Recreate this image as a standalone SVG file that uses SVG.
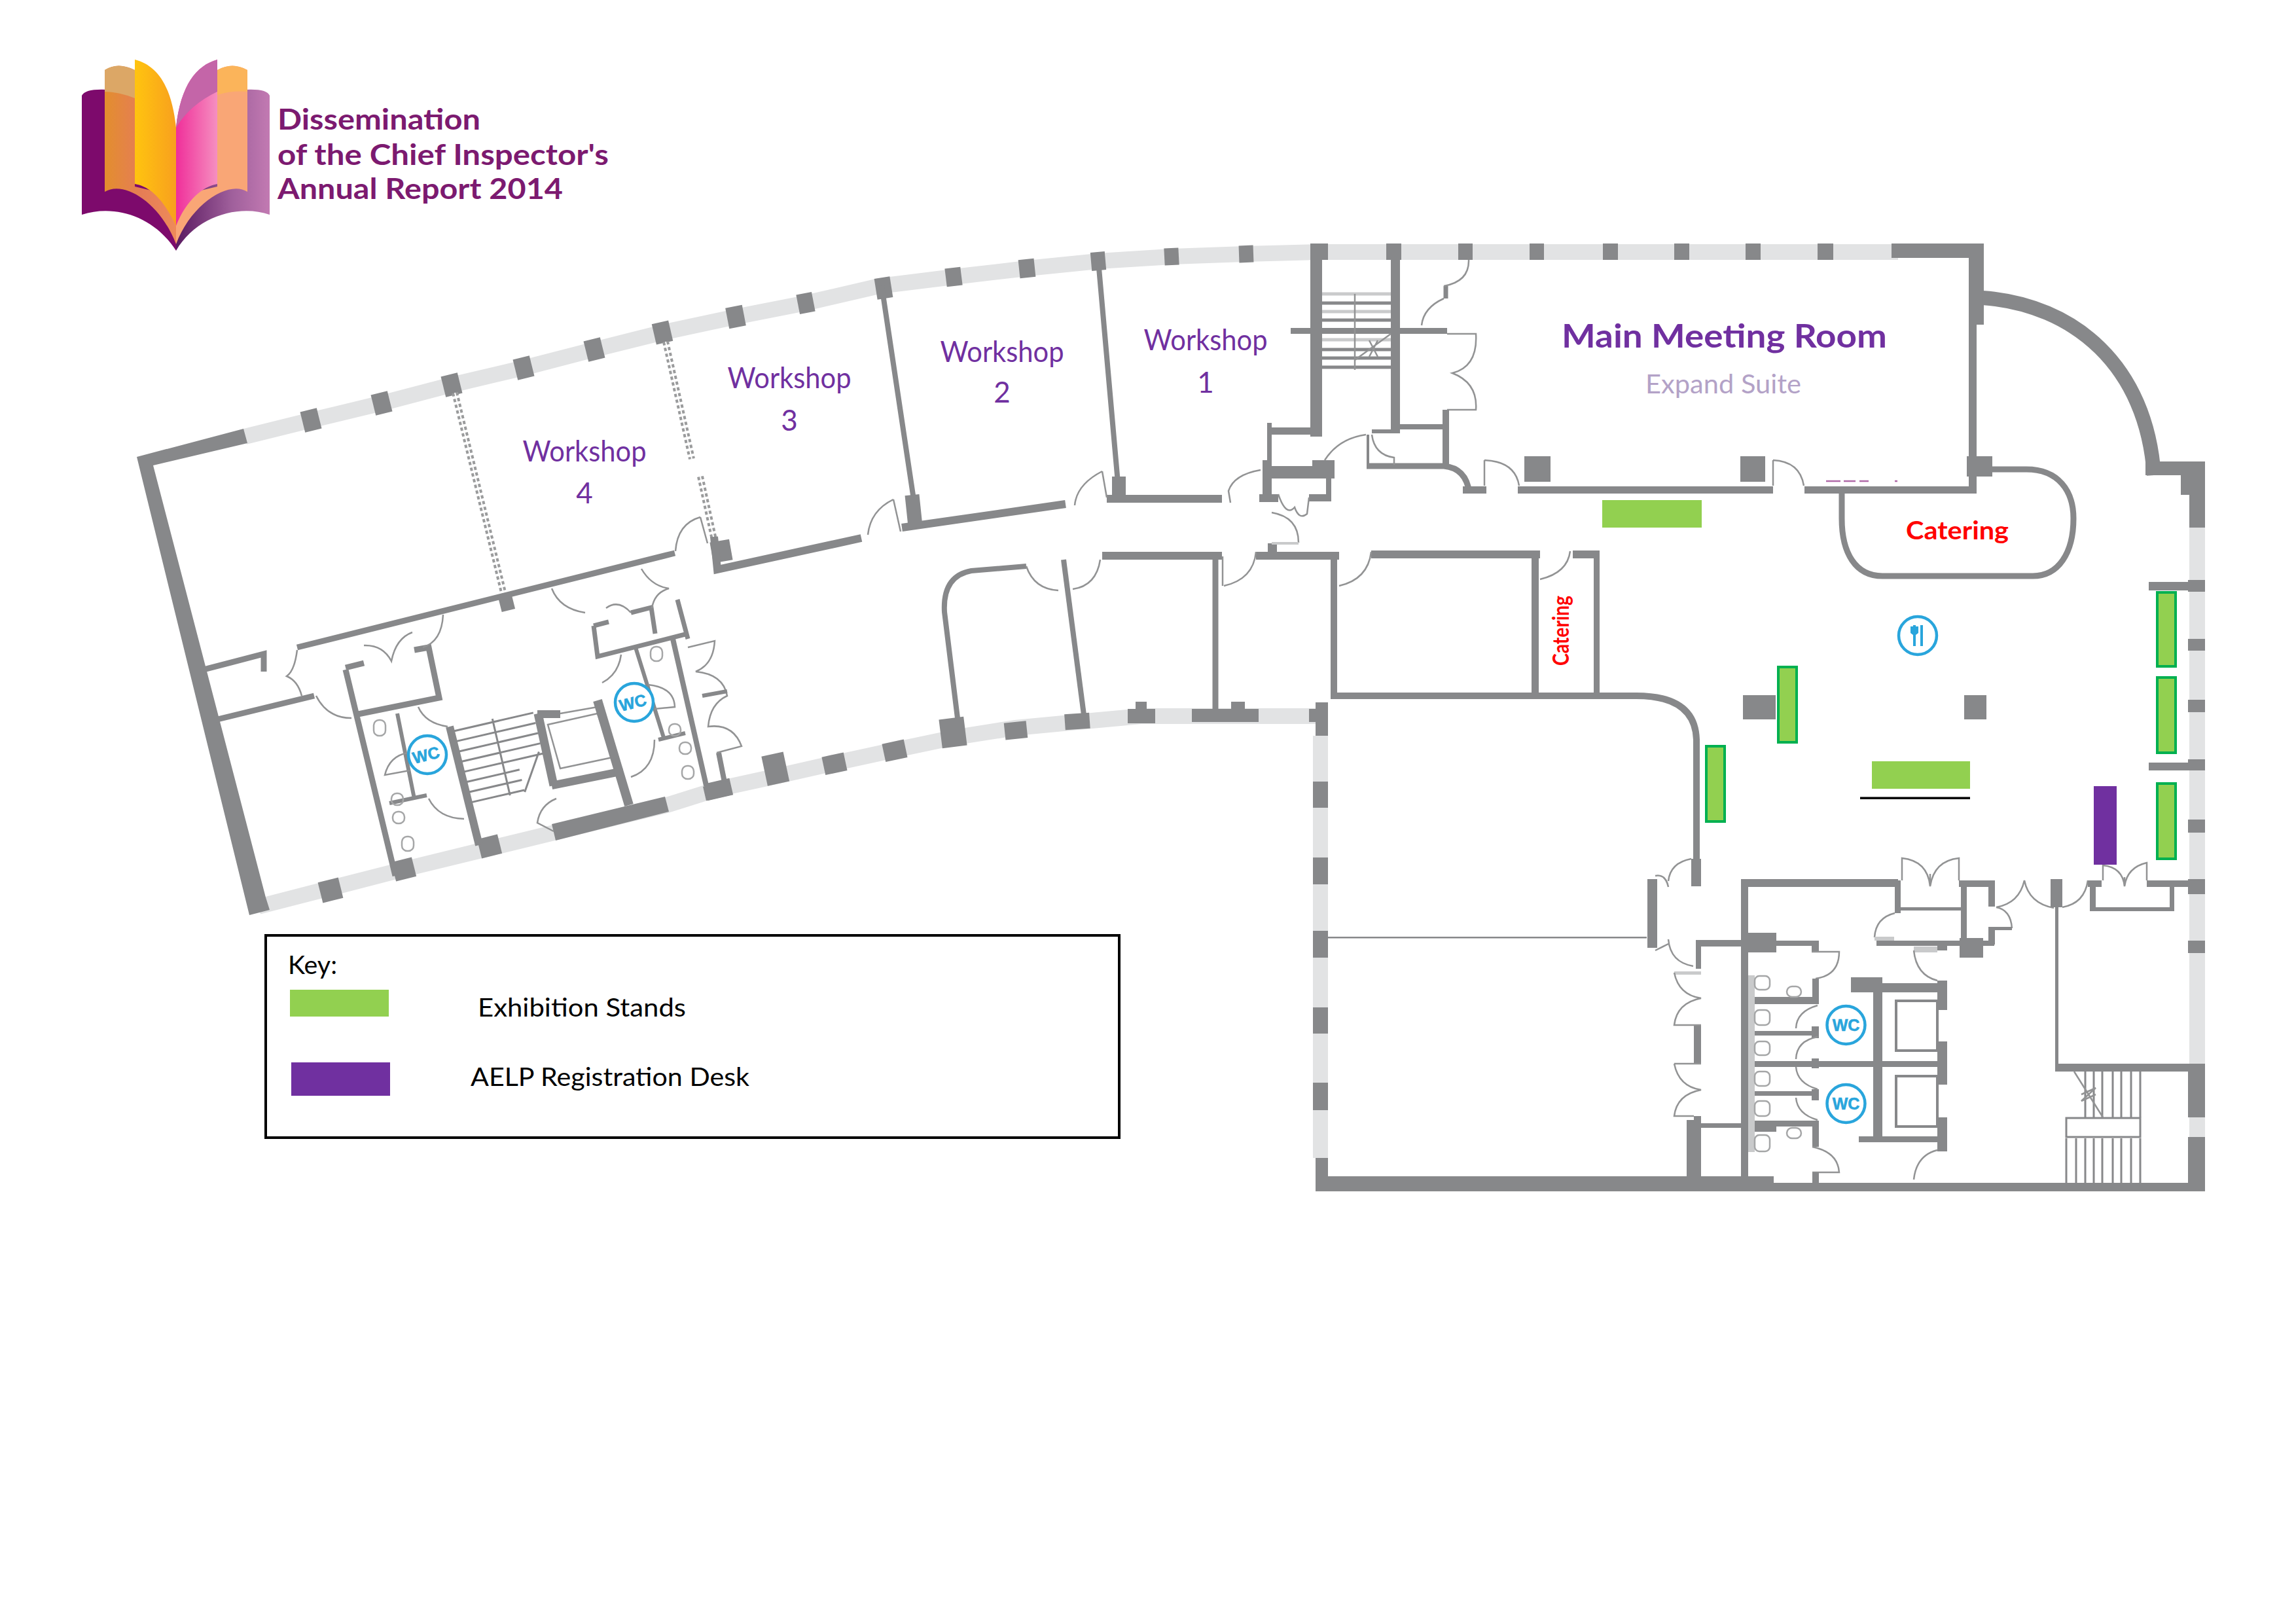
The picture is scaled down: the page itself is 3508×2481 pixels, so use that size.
<svg xmlns="http://www.w3.org/2000/svg" width="3508" height="2481" viewBox="0 0 3508 2481">
<style>
text{font-family:Lato,"Open Sans","Liberation Sans",sans-serif}
.f{fill:#87888a}
.l{fill:#e2e3e4}
.g{fill:#c9cacb}
.w{fill:none;stroke:#87888a;stroke-linejoin:miter}
.d{fill:none;stroke:#929394;stroke-width:2.5}
.t{fill:none;stroke:#a5a6a7;stroke-width:2.5}
.s{fill:#92d050;stroke:#00b050;stroke-width:4}
.p{fill:#92d050}
.reg{fill:#7030a0}
.wk{font-size:44px;fill:#7030a0;text-anchor:middle}
.logo{font-size:43px;font-weight:700;fill:#7c1a70}
.key{font-size:39px;fill:#000}
.ic{fill:#fff;stroke:#29a5dc;stroke-width:4.5}
.wc{font-family:"Liberation Sans",sans-serif;font-size:25px;font-weight:700;fill:#29a5dc;stroke:#29a5dc;stroke-width:.6;text-anchor:middle}
.col{fill:#87888a}
</style>
<defs>
<linearGradient id="gr" gradientUnits="userSpaceOnUse" x1="269" y1="0" x2="412" y2="0"><stop offset="0" stop-color="#5a1a60"/><stop offset="0.6" stop-color="#a0609c"/><stop offset="1" stop-color="#c27ab2"/></linearGradient>
<linearGradient id="go" gradientUnits="userSpaceOnUse" x1="160" y1="0" x2="269" y2="0"><stop offset="0" stop-color="#e38e2e"/><stop offset="0.5" stop-color="#e57d55"/><stop offset="1" stop-color="#ee8a5a"/></linearGradient>
<linearGradient id="gy" gradientUnits="userSpaceOnUse" x1="206" y1="0" x2="269" y2="0"><stop offset="0" stop-color="#ffc40f"/><stop offset="1" stop-color="#f8a01e"/></linearGradient>
<linearGradient id="gm" gradientUnits="userSpaceOnUse" x1="269" y1="0" x2="332" y2="0"><stop offset="0" stop-color="#f02f9a"/><stop offset="1" stop-color="#f58fc0"/></linearGradient>
</defs>
<rect width="3508" height="2481" fill="#fff"/>

<g id="logo">
<path d="M125,146Q130,135 165,137L269,300V383C235,330 175,312 125,328Z" fill="#7d0a6c"/>
<path d="M412,146Q408,135 373,137L269,300V383C300,330 365,312 412,328Z" fill="url(#gr)"/>
<path d="M160,107Q180,94 206,107V285L269,300V373C245,310 190,275 160,293Z" fill="url(#go)"/>
<path d="M160,107Q180,94 206,107V150Q180,140 160,140Z" fill="#dca766"/>
<path d="M378,107Q355,94 332,107V285L269,300V373C293,310 350,275 378,293Z" fill="#f9a676"/>
<path d="M378,107Q355,94 332,107V145Q355,138 378,140Z" fill="#fbb45a"/>
<path d="M206,91C240,100 262,130 269,195V345C250,305 230,285 206,281Z" fill="url(#gy)"/>
<path d="M332,91V281C310,285 285,305 269,345V195C276,130 300,100 332,91Z" fill="url(#gm)"/>
<path d="M332,91C300,100 276,130 269,195Q290,160 332,140Z" fill="#c465a8"/>
<text class="logo" x="424" y="198" textLength="310" lengthAdjust="spacingAndGlyphs">Dissemination</text>
<text class="logo" x="424" y="252" textLength="506" lengthAdjust="spacingAndGlyphs">of the Chief Inspector's</text>
<text class="logo" x="424" y="304" textLength="436" lengthAdjust="spacingAndGlyphs">Annual Report 2014</text>
</g>

<g id="facade-west">
<polyline points="374,667 475,642 583,616 690,588 800,562 908,534 1012,508 1124,484 1231,463 1343,437 1457,423 1569,410 1678,399 1790,392 1902,388 2015,385 2900,385" fill="none" stroke="#e2e3e4" stroke-width="24"/>
<polyline points="395,1385 617,1328 1019,1230 1098,1205 1190,1185 1274,1166 1366,1146 1456,1127 1551,1112 1646,1103 1744,1094 2015,1094" fill="none" stroke="#e2e3e4" stroke-width="24"/>
<polygon class="f" points="209,698 372,655 378,677 234,711 406,1371 412,1390 381,1398"/>
<rect class="col" x="-13" y="-16" width="26" height="32" transform="translate(475,642) rotate(-14)"/>
<rect class="col" x="-13" y="-16" width="26" height="32" transform="translate(583,616) rotate(-14)"/>
<rect class="col" x="-13" y="-16" width="26" height="32" transform="translate(690,588) rotate(-14)"/>
<rect class="col" x="-13" y="-16" width="26" height="32" transform="translate(800,562) rotate(-14)"/>
<rect class="col" x="-13" y="-16" width="26" height="32" transform="translate(908,534) rotate(-14)"/>
<rect class="col" x="-13" y="-16" width="26" height="32" transform="translate(1012,508) rotate(-13)"/>
<rect class="col" x="-13" y="-16" width="26" height="32" transform="translate(1124,484) rotate(-11)"/>
<rect class="col" x="-12" y="-15" width="24" height="30" transform="translate(1231,463) rotate(-11)"/>
<rect class="col" x="-12" y="-16" width="24" height="32" transform="translate(1350,440) rotate(-9)"/>
<rect class="col" x="-12" y="-14" width="24" height="28" transform="translate(1457,423) rotate(-7)"/>
<rect class="col" x="-12" y="-14" width="24" height="28" transform="translate(1569,410) rotate(-6)"/>
<rect class="col" x="-11" y="-14" width="22" height="28" transform="translate(1678,399) rotate(-5)"/>
<rect class="col" x="-11" y="-13" width="22" height="26" transform="translate(1790,392) rotate(-3)"/>
<rect class="col" x="-11" y="-13" width="22" height="26" transform="translate(1904,388) rotate(-2)"/>
<rect class="f" x="2002" y="372" width="27" height="25"/><rect class="f" x="2118" y="372" width="23" height="25"/><rect class="f" x="2228" y="372" width="22" height="25"/><rect class="f" x="2337" y="372" width="22" height="25"/><rect class="f" x="2449" y="372" width="23" height="25"/><rect class="f" x="2558" y="372" width="23" height="25"/><rect class="f" x="2667" y="372" width="23" height="25"/><rect class="f" x="2777" y="372" width="24" height="25"/>
<rect class="f" x="2890" y="372" width="141" height="22"/>
<rect class="col" x="-16" y="-16" width="32" height="32" transform="translate(505,1360) rotate(-14)"/>
<rect class="col" x="-16" y="-15" width="32" height="30" transform="translate(617,1328) rotate(-14)"/>
<rect class="col" x="-16" y="-15" width="32" height="30" transform="translate(748,1293) rotate(-14)"/>
<polygon class="f" points="843,1259 1016,1217 1022,1240 849,1284"/>
<rect class="col" x="-20" y="-14" width="40" height="26" transform="translate(1098,1207) rotate(-13)"/>
<rect class="col" x="-15" y="-24" width="34" height="46" transform="translate(1183,1176) rotate(-12)"/>
<rect class="col" x="-16" y="-14" width="34" height="28" transform="translate(1274,1167) rotate(-12)"/>
<rect class="col" x="-16" y="-14" width="34" height="28" transform="translate(1366,1147) rotate(-12)"/>
<rect class="col" x="-19" y="-22" width="38" height="44" transform="translate(1456,1119) rotate(-7)"/>
<rect class="col" x="-16" y="-13" width="34" height="26" transform="translate(1551,1116) rotate(-6)"/>
<rect class="col" x="-19" y="-13" width="38" height="24" transform="translate(1646,1103) rotate(-4)"/>
<path class="f" d="M1723,1083H1735V1072H1752V1083H1765V1105H1723ZM1821,1083H1881V1072H1902V1083H1923V1103H1821ZM2000,1083H2010V1073H2029V1124H2010V1103H2000Z"/>
</g>

<g id="partitions">
<path d="M695,600L770,909M1017,522L1057,701M1070,728L1092,829" fill="none" stroke="#9a9b9c" stroke-width="10" stroke-dasharray="5 4"/>
<path d="M695,600L770,909M1017,522L1057,701M1070,728L1092,829" fill="none" stroke="#fff" stroke-width="2"/>
<path class="w" stroke-width="8" d="M1347,436L1399,783M1678,398L1710,760"/>
</g>

<g id="west-wing">
<path class="w" stroke-width="9" d="M311,1023L403,999V1026M454,989L1031,845"/>
<rect class="col" x="-10" y="-12" width="21" height="26" transform="translate(773,919) rotate(-14)"/>
<path class="w" stroke-width="9" d="M328,1100L480,1063"/>
<rect class="col" x="-15" y="-16" width="30" height="32" transform="translate(1102,842) rotate(-10)"/>
<path class="w" stroke-width="12" d="M1091,820L1096,870L1316,822"/>
<path class="w" stroke-width="12" d="M1378,806L1628,770"/>
<rect class="col" x="-11" y="-24" width="22" height="50" transform="translate(1396,780) rotate(-6)"/>
<rect class="f" x="1699" y="728" width="21" height="36"/>
<path class="w" stroke-width="12" d="M1691,762H1867"/>
<path class="w" stroke-width="8" d="M1463,1097L1443,935Q1440,880 1484,872L1568,865"/>
<path class="w" stroke-width="8" d="M1656,1092L1625,855"/>
<path class="w" stroke-width="9" d="M1857,850V1085"/>
<path class="w" stroke-width="12" d="M1684,849H1867M1919,849H2046M2095,847H2353M2403,847H2444"/>
<rect class="f" x="1937" y="830" width="14" height="14"/>
<path class="w" stroke-width="9" d="M528,1023L604,1338M528,1020L556,1013M633,993L655,989L671,1066L547,1091"/>
<path class="w" stroke-width="6" d="M607,1090L633,1220M595,1227L652,1215"/>
<path class="w" stroke-width="12" d="M687,1110L732,1291"/>
<path class="w" stroke-width="13" d="M822,1090L846,1200"/>
<rect class="f" x="821" y="1085" width="35" height="12"/>
<path class="d" d="M856,1090L913,1080M837,1107L913,1090L936,1157L856,1174Z"/>
<path class="w" stroke-width="12" d="M843,1200L952,1178"/>
<path class="w" stroke-width="14" d="M913,1070L961,1230"/>
<path class="w" stroke-width="7" d="M907,956L913,1003L1047,969M1035,916L1051,976M907,956L930,950M964,936L995,928L1001,968"/>
<path class="w" stroke-width="6" d="M971,989L1015,1130M1006,1130L1047,1120"/>
<path class="w" stroke-width="8" d="M1028,976L1079,1200"/>
<path class="w" stroke-width="8" d="M1098,1150L1108,1200"/>
<rect class="f" x="1076" y="1197" width="41" height="22" transform="rotate(-13 1096 1208)"/>
<g transform="translate(693,1117) rotate(-13)" stroke="#87888a" stroke-width="3" fill="none">
<path d="M0,0H125M0,16H125M0,32H125M0,48H125M0,64H125M0,80H85M0,96H85M0,112H85M62,-5V115M85,115L120,60"/>
</g>
<path class="d" d="M677,939Q675,980 646,989M556,986Q585,985 598,1010Q605,975 630,966M483,1063Q500,1097 537,1097M454,993Q450,1025 438,1033Q455,1040 461,1063M639,1080Q650,1105 684,1110M623,1150Q595,1155 588,1184L626,1177M655,1220Q670,1250 709,1251M843,899Q855,930 894,936M926,929Q945,915 964,936M980,869Q995,895 1022,899Q1000,905 996,929M949,1000Q945,1030 920,1043M1000,1130Q1000,1175 964,1187M990,1046Q1030,1050 1031,1080L1000,1083M1051,989L1092,979Q1090,1015 1063,1026Q1105,1030 1111,1063Q1085,1075 1082,1110Q1120,1105 1133,1140L1095,1150M850,1220Q825,1230 821,1257L846,1270M1070,790Q1035,800 1032,842M1070,790L1081,830M1365,763Q1330,780 1326,817M1365,763L1376,812M1684,720Q1645,740 1642,772M1684,720L1691,760M1568,865Q1580,900 1617,902M1681,855Q1675,895 1639,900M1870,895Q1915,885 1919,843M1868,850V895M2046,895Q2090,885 2095,843M2353,885Q2395,875 2399,842"/>
<path class="w" stroke-width="6" d="M1073,1063L1111,1056"/>
<g class="t" fill="none"><rect x="571" y="1100" width="18" height="24" rx="8"/><rect x="598" y="1212" width="18" height="18" rx="8"/><rect x="600" y="1240" width="18" height="18" rx="8"/><rect x="614" y="1278" width="18" height="22" rx="8"/><rect x="994" y="988" width="18" height="22" rx="8"/><rect x="1022" y="1106" width="18" height="18" rx="8"/><rect x="1038" y="1134" width="18" height="18" rx="8"/><rect x="1042" y="1170" width="18" height="20" rx="8"/></g>
</g>
<g id="wc-west-1"><circle class="ic" cx="653" cy="1153" r="29"/><text class="wc" transform="translate(653,1162) rotate(-14)">WC</text></g>
<g id="wc-west-2"><circle class="ic" cx="969" cy="1073" r="29"/><text class="wc" transform="translate(969,1082) rotate(-14)">WC</text></g>

<g id="north-core">
<rect class="f" x="2002" y="397" width="18" height="270"/>
<rect class="f" x="2125" y="397" width="14" height="259"/>
<g stroke="#87888a" stroke-width="5" fill="none"><path d="M2020,463H2125M2020,489H2125M2020,534H2125M2020,547H2125M2020,561H2125"/></g>
<g stroke="#c9cacb" stroke-width="5" fill="none"><path d="M2020,449H2125M2020,476H2125M2020,519H2125"/></g>
<rect class="f" x="1972" y="501" width="239" height="9"/>
<path class="d" d="M2070,449V565M2070,550L2125,510M2092,520L2105,545M2105,520L2092,545"/>
<path class="w" stroke-width="7" d="M2209,437V456"/>
<path class="d" d="M2244,397Q2245,430 2206,437M2206,456Q2175,470 2172,497M2211,510H2255Q2258,560 2219,570Q2258,585 2255,626H2211"/>
<rect class="f" x="2204" y="626" width="10" height="88"/>
<rect class="f" x="2139" y="648" width="67" height="8"/>
<path class="w" stroke-width="9" d="M2088,712H2206Q2240,715 2245,753"/>
<rect class="f" x="2235" y="743" width="36" height="11"/>
<rect class="f" x="2319" y="743" width="390" height="11"/>
<rect class="f" x="2757" y="743" width="263" height="11"/>
<rect class="f" x="2329" y="697" width="40" height="39"/>
<rect class="f" x="2659" y="697" width="38" height="39"/>
<rect class="f" x="3005" y="697" width="39" height="31"/>
<rect class="f" x="3008" y="394" width="12" height="350"/>
<rect class="f" x="3008" y="394" width="23" height="102"/>
<path class="d" d="M2268,703V742M2268,703Q2315,705 2321,742M2709,703V742M2709,703Q2750,705 2756,742"/>
<path d="M2790,735H2905" fill="none" stroke="#b06aa8" stroke-width="2.500" stroke-dasharray="22 5 18 6 14 40 4"/>
<rect class="f" x="1936" y="653" width="84" height="11"/>
<rect class="f" x="1936" y="646" width="7" height="57"/>
<rect class="f" x="1929" y="712" width="110" height="19"/>
<rect class="f" x="2005" y="703" width="34" height="28"/>
<rect class="f" x="1929" y="703" width="14" height="57"/>
<rect class="f" x="1924" y="755" width="29" height="12"/>
<rect class="f" x="2000" y="755" width="34" height="11"/>
<rect class="f" x="2026" y="731" width="8" height="24"/>
<rect class="f" x="2096" y="656" width="43" height="6"/>
<rect class="f" x="2088" y="664" width="4" height="46"/>
<path class="d" d="M2096,664Q2100,695 2130,699L2130,710M2087,664Q2045,670 2024,703M1953,755Q1965,790 1978,775Q1985,795 1997,785L2000,760M1943,783Q1984,790 1984,829M1926,718Q1885,725 1877,750L1880,768M1943,830H1984"/>
<rect class="g" x="1943" y="828" width="41" height="4"/>
</g>

<g id="east-shell">
<path class="w" stroke-width="22" d="M3029,455C3170,465 3280,560 3291,726"/>
<rect class="f" x="3278" y="705" width="91" height="21"/>
<rect class="f" x="3332" y="705" width="37" height="51"/>
<rect class="f" x="3345" y="756" width="24" height="50"/>
<rect class="l" x="3345" y="806" width="24" height="819"/>
<rect class="l" x="3345" y="1707" width="24" height="30"/>
<rect class="f" x="3283" y="889" width="86" height="13"/><rect class="f" x="3343" y="886" width="26" height="18"/>
<rect class="f" x="3343" y="976" width="26" height="18"/>
<rect class="f" x="3343" y="1069" width="26" height="19"/>
<rect class="f" x="3283" y="1165" width="86" height="12"/><rect class="f" x="3343" y="1160" width="26" height="17"/>
<rect class="f" x="3343" y="1252" width="26" height="20"/>
<rect class="f" x="3343" y="1343" width="26" height="23"/>
<rect class="f" x="3343" y="1437" width="26" height="19"/>
<rect class="f" x="3343" y="1625" width="26" height="82"/>
<rect class="f" x="3343" y="1737" width="26" height="83"/>
<rect class="f" x="2010" y="1797" width="700" height="23"/>
<rect class="f" x="2700" y="1807" width="668" height="13"/>
<rect class="l" x="2006" y="1124" width="23" height="645"/>
<rect class="f" x="2006" y="1194" width="23" height="40"/><rect class="f" x="2006" y="1310" width="23" height="41"/><rect class="f" x="2006" y="1422" width="23" height="41"/><rect class="f" x="2006" y="1539" width="23" height="40"/><rect class="f" x="2006" y="1654" width="23" height="42"/><rect class="f" x="2010" y="1769" width="19" height="51"/>
<rect class="f" x="2029" y="1431" width="487" height="2.500"/>
</g>

<g id="central-rooms">
<path class="w" stroke-width="10" d="M2038,845V1063H2500Q2590,1063 2592,1130V1354"/>
<rect class="f" x="2340" y="851" width="11" height="210"/>
<rect class="f" x="2435" y="851" width="9" height="210"/>
<rect class="f" x="2584" y="1312" width="15" height="42"/>
<rect class="f" x="2517" y="1343" width="15" height="105"/>
<path class="d" d="M2584,1312Q2552,1318 2549,1346M2529,1338Q2545,1335 2549,1355M2549,1435Q2552,1470 2587,1476M2529,1452L2549,1442"/>
</g>

<g id="catering-room">
<path class="w" stroke-width="9" d="M3044,717H3096C3145,717 3168,750 3168,792C3168,845 3145,880 3106,880H2876C2835,880 2814,845 2814,792V753"/>
</g>

<g id="south-core">
<rect class="f" x="2660" y="1343" width="240" height="12"/>
<rect class="f" x="2660" y="1355" width="11" height="442"/>
<rect class="f" x="2663" y="1425" width="51" height="30"/>
<rect class="f" x="2591" y="1436" width="72" height="10"/>
<rect class="f" x="2591" y="1436" width="8" height="44"/>
<rect class="g" x="2558" y="1484" width="41" height="5"/>
<rect class="f" x="2588" y="1566" width="11" height="59"/>
<rect class="f" x="2588" y="1705" width="11" height="10"/>
<rect class="f" x="2577" y="1711" width="22" height="90"/>
<rect class="f" x="2599" y="1716" width="64" height="7"/>
<path class="d" d="M2558,1486Q2565,1520 2599,1525Q2562,1532 2558,1566H2599M2558,1625H2599M2558,1625Q2565,1660 2599,1665Q2562,1672 2558,1705H2588"/>
<rect class="f" x="2714" y="1437" width="65" height="8"/>
<rect class="f" x="2768" y="1437" width="11" height="18"/>
<path class="d" d="M2768,1454H2810Q2810,1490 2774,1495"/>
<rect class="f" x="2769" y="1495" width="10" height="34"/>
<rect class="f" x="2671" y="1523" width="108" height="11"/>
<rect class="f" x="2671" y="1575" width="108" height="7"/><rect class="f" x="2768" y="1568" width="11" height="18"/>
<rect class="f" x="2671" y="1621" width="300" height="9"/><rect class="f" x="2768" y="1617" width="11" height="15"/>
<rect class="f" x="2671" y="1667" width="108" height="7"/><rect class="f" x="2768" y="1664" width="11" height="17"/>
<rect class="f" x="2663" y="1712" width="116" height="9"/><rect class="f" x="2663" y="1712" width="51" height="17"/>
<rect class="f" x="2769" y="1716" width="10" height="36"/>
<path class="d" d="M2769,1752Q2808,1760 2810,1791H2769"/>
<rect class="f" x="2769" y="1791" width="10" height="16"/>
<path class="d" d="M2777,1536Q2745,1545 2744,1571M2777,1584Q2745,1590 2744,1618M2744,1630Q2746,1655 2777,1664M2744,1677Q2746,1702 2777,1711"/>
<rect class="g" x="2671" y="1490" width="10" height="270"/>
<g class="t" fill="none">
<rect x="2681" y="1491" width="23" height="21" rx="7"/><rect x="2681" y="1543" width="23" height="23" rx="7"/><rect x="2681" y="1591" width="23" height="21" rx="7"/><rect x="2681" y="1637" width="23" height="22" rx="7"/><rect x="2681" y="1682" width="23" height="23" rx="7"/><rect x="2681" y="1734" width="23" height="25" rx="7"/>
<rect x="2730" y="1507" width="22" height="16" rx="8"/><rect x="2730" y="1723" width="22" height="16" rx="8"/>
</g>
<rect class="f" x="2862" y="1514" width="14" height="229"/>
<rect class="f" x="2828" y="1493" width="48" height="23"/>
<rect class="f" x="2876" y="1502" width="99" height="14"/>
<rect class="f" x="2960" y="1498" width="15" height="45"/>
<rect class="f" x="2960" y="1591" width="15" height="66"/>
<rect class="f" x="2960" y="1707" width="15" height="52"/>
<rect class="f" x="2840" y="1736" width="135" height="9"/>
<rect x="2897" y="1529" width="63" height="76" fill="none" stroke="#87888a" stroke-width="4"/>
<rect x="2897" y="1644" width="63" height="77" fill="none" stroke="#87888a" stroke-width="4"/>
<rect class="f" x="2867" y="1437" width="180" height="8"/>
<rect class="f" x="2994" y="1433" width="36" height="30"/>
<rect class="f" x="2960" y="1445" width="15" height="7"/>
<rect class="g" x="2924" y="1446" width="36" height="9"/>
<path class="d" d="M2924,1452Q2928,1490 2960,1498M2960,1757Q2928,1765 2924,1802"/>
<rect class="f" x="2996" y="1345" width="9" height="91"/>
<rect class="f" x="2895" y="1345" width="9" height="50"/>
<rect class="f" x="2903" y="1386" width="95" height="5"/>
<path class="d" d="M2895,1395Q2866,1402 2864,1432"/>
<rect class="g" x="2864" y="1431" width="30" height="6"/>
<path class="d" d="M2906,1345V1311Q2945,1315 2949,1354Q2955,1315 2993,1311V1345M2949,1335V1354"/>
<rect class="f" x="2993" y="1345" width="55" height="10"/>
<rect class="f" x="3038" y="1345" width="10" height="40"/>
<path class="d" d="M3050,1386Q3085,1380 3093,1345Q3100,1380 3138,1387M3151,1386Q3185,1380 3190,1345M3050,1386Q3072,1390 3074,1418"/>
<rect class="f" x="3038" y="1416" width="36" height="5"/>
<rect class="f" x="3038" y="1418" width="10" height="25"/>
<rect class="f" x="3133" y="1343" width="18" height="43"/>
<rect class="f" x="3140" y="1386" width="5" height="239"/>
<rect class="f" x="3190" y="1345" width="21" height="10"/>
<rect class="f" x="3193" y="1345" width="9" height="47"/>
<rect class="f" x="3193" y="1386" width="129" height="6"/>
<rect class="f" x="3315" y="1345" width="7" height="47"/>
<rect class="f" x="3280" y="1345" width="63" height="10"/>
<path class="d" d="M3213,1345V1322Q3243,1325 3246,1354Q3250,1325 3280,1318V1345M3246,1340V1354"/>
<rect class="f" x="3140" y="1625" width="203" height="12"/>
<g stroke="#87888a" stroke-width="3" fill="none">
<path d="M3186,1637V1707M3199,1637V1707M3212,1637V1707M3228,1637V1707M3241,1637V1707M3256,1637V1707M3270,1637V1707"/>
<rect x="3157" y="1708" width="113" height="29"/>
<path d="M3157,1739V1807M3172,1739V1807M3186,1739V1807M3199,1739V1807M3212,1739V1807M3228,1739V1807M3241,1739V1807M3256,1739V1807M3270,1739V1807"/>
</g>
<path class="d" d="M3169,1637L3213,1707M3180,1672L3202,1662L3180,1682L3202,1672"/>
</g>
<g id="wc-south-1"><circle class="ic" cx="2820.500" cy="1566" r="29"/><text class="wc" x="2820.500" y="1575">WC</text></g>
<g id="wc-south-2"><circle class="ic" cx="2820.500" cy="1686" r="29"/><text class="wc" x="2820.500" y="1695">WC</text></g>

<g id="columns-foyer">
<rect class="f" x="2663" y="1062" width="50" height="37"/>
<rect class="f" x="3001" y="1062" width="34" height="37"/>
</g>
<g id="restaurant-icon">
<circle class="ic" cx="2930" cy="971" r="29"/>
<path d="M2925,955V987M2936,955V987M2921,957V966Q2925,970 2929,966V957" fill="none" stroke="#29a5dc" stroke-width="4"/>
</g>

<g id="stands">
<rect class="p" x="2448" y="764" width="152" height="42"/>
<rect class="p" x="2860" y="1163" width="150" height="42"/>
<rect x="2842" y="1217.500" width="168" height="3.500" fill="#000"/>
<rect class="s" x="2717" y="1019" width="28" height="115"/>
<rect class="s" x="2607" y="1140" width="28" height="115"/>
<rect class="s" x="3296" y="905" width="28" height="113"/>
<rect class="s" x="3296" y="1035" width="28" height="115"/>
<rect class="s" x="3296" y="1197" width="28" height="115"/>
<rect class="reg" x="3199" y="1201" width="35" height="120"/>
</g>

<g id="labels">
<text class="wk" x="893" y="705" textLength="189" lengthAdjust="spacingAndGlyphs">Workshop</text><text class="wk" x="893" y="769">4</text>
<text class="wk" x="1206" y="593" textLength="189" lengthAdjust="spacingAndGlyphs">Workshop</text><text class="wk" x="1206" y="658">3</text>
<text class="wk" x="1531" y="553" textLength="189" lengthAdjust="spacingAndGlyphs">Workshop</text><text class="wk" x="1531" y="615">2</text>
<text class="wk" x="1842" y="535" textLength="189" lengthAdjust="spacingAndGlyphs">Workshop</text><text class="wk" x="1842" y="600">1</text>
<text x="2386" y="531" font-size="49" font-weight="700" fill="#7030a0" textLength="497" lengthAdjust="spacingAndGlyphs">Main Meeting Room</text>
<text x="2514" y="601" font-size="40" fill="#b3a2c7" textLength="238" lengthAdjust="spacingAndGlyphs">Expand Suite</text>
<text x="2912" y="824" font-size="39" font-weight="700" fill="#f00" textLength="157" lengthAdjust="spacingAndGlyphs">Catering</text>
<text transform="translate(2397,1017) rotate(-90)" font-size="35" font-weight="700" fill="#f00" textLength="107" lengthAdjust="spacingAndGlyphs">Catering</text>
</g>

<g id="key">
<rect x="406" y="1429" width="1304" height="309" fill="none" stroke="#000" stroke-width="4"/>
<text class="key" x="440" y="1488" textLength="75" lengthAdjust="spacingAndGlyphs">Key:</text>
<rect class="p" x="443" y="1512" width="151" height="41"/>
<text class="key" x="730" y="1553" textLength="318" lengthAdjust="spacingAndGlyphs">Exhibition Stands</text>
<rect class="reg" x="445" y="1623" width="151" height="51"/>
<text class="key" x="719" y="1659" textLength="426" lengthAdjust="spacingAndGlyphs">AELP Registration Desk</text>
</g>
</svg>
